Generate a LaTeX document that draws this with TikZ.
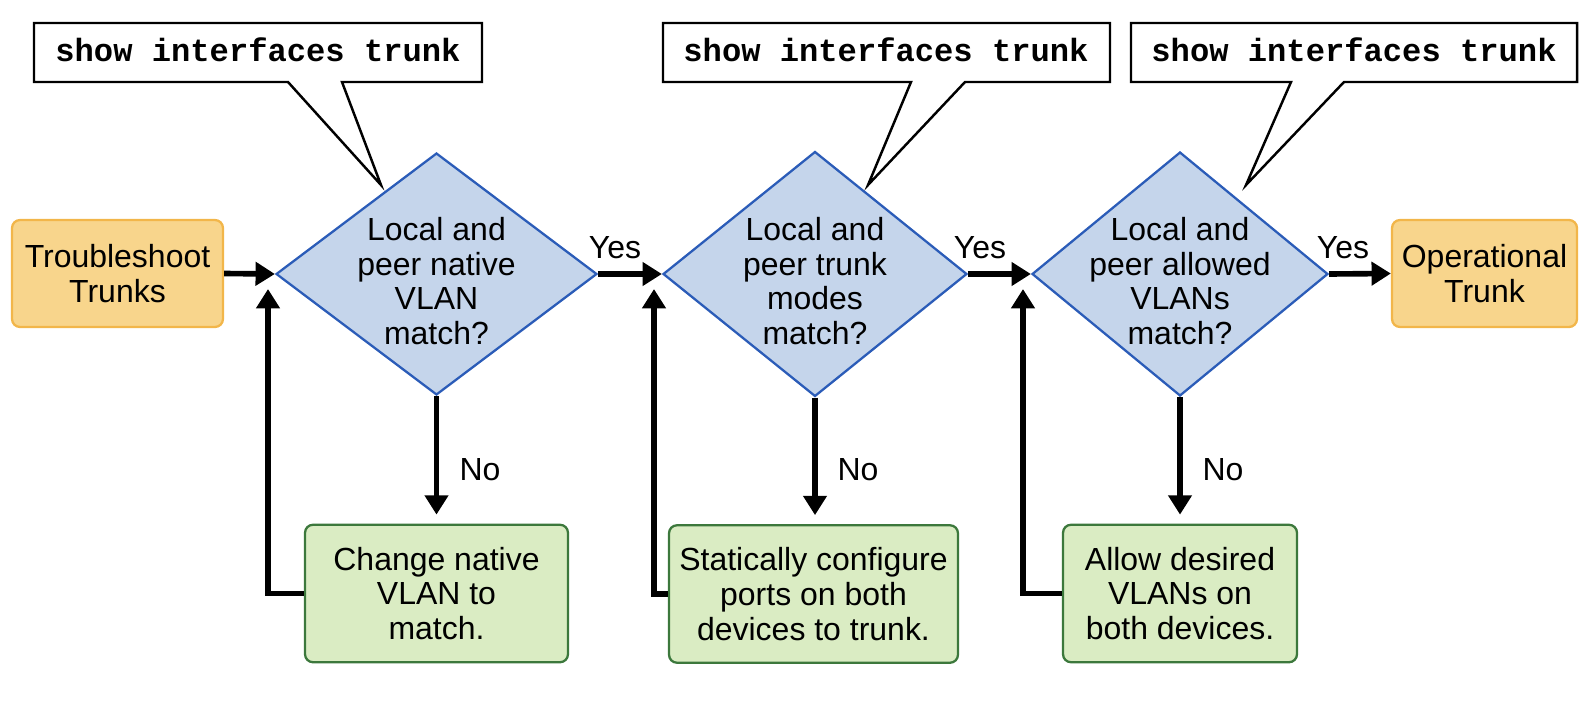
\documentclass[tikz,border=0pt]{standalone}
\usepackage{fontspec}
\setmainfont{Liberation Sans}
\setmonofont{Liberation Mono}
\usetikzlibrary{shapes.geometric,arrows.meta}
\definecolor{orfill}{HTML}{F8D58C}
\definecolor{ordraw}{HTML}{F2B64A}
\definecolor{blfill}{HTML}{C5D5EB}
\definecolor{bldraw}{HTML}{2B5CB8}
\definecolor{grfill}{HTML}{DAECC3}
\definecolor{grdraw}{HTML}{3C783C}
\begin{document}
\begin{tikzpicture}[x=0.02cm,y=-0.02cm,
  txt/.style={font=\fontsize{18.2}{19.8}\selectfont, align=center, text=black, inner sep=0pt},
  term/.style={txt, rectangle, rounded corners=0.16cm, fill=orfill, draw=ordraw, line width=1.3pt, minimum height=2.14cm},
  act/.style={txt, rectangle, rounded corners=0.16cm, fill=grfill, draw=grdraw, line width=1.3pt, minimum height=2.75cm},
  dia/.style={diamond, fill=blfill, draw=bldraw, line width=1.3pt, inner sep=0pt},
  callout/.style={draw=black, fill=white, line width=1.4pt, line join=miter},
  cmd/.style={font=\fontsize{18.3}{20}\selectfont\ttfamily\bfseries, inner sep=0pt},
  arr/.style={line width=3.2pt, -{Triangle[length=11pt,width=13pt]}},
  lbl/.style={txt}]
\useasboundingbox (0,0) rectangle (1588,726);

% callouts
\draw[callout] (34,23) -- (482,23) -- (482,82) -- (342,82) -- (381,185) -- (288,82) -- (34,82) -- cycle;
\node[cmd] (c1) at (258,50) {show interfaces trunk};
\draw[callout] (663,23) -- (1110,23) -- (1110,82) -- (965,82) -- (868,185) -- (911,82) -- (663,82) -- cycle;
\node[cmd] (c2) at (886,50) {show interfaces trunk};
\draw[callout] (1131,23) -- (1577,23) -- (1577,82) -- (1344,82) -- (1246,185) -- (1291,82) -- (1131,82) -- cycle;
\node[cmd] (c3) at (1354,50) {show interfaces trunk};

% terminals
\node[term, minimum width=4.22cm] (t) at (117.5,273.5) {Troubleshoot\\Trunks};
\node[term, minimum width=3.7cm] (o) at (1484.5,273.5) {Operational\\Trunk};

% decisions
\node[dia, minimum width=6.42cm, minimum height=4.84cm] (d1) at (436.5,274) {};
\node[txt] (d1t) at (436.5,281) {Local and\\peer native\\VLAN\\match?};
\node[dia, minimum width=6.08cm, minimum height=4.9cm] (d2) at (815,274) {};
\node[txt] (d2t) at (815,281) {Local and\\peer trunk\\modes\\match?};
\node[dia, minimum width=5.92cm, minimum height=4.88cm] (d3) at (1180,274) {};
\node[txt] (d3t) at (1180,281) {Local and\\peer allowed\\VLANs\\match?};

% actions
\node[act, minimum width=5.26cm] (g1) at (436.5,593.5) {Change native\\VLAN to\\match.};
\node[act, minimum width=5.78cm] (g2) at (813.5,594) {Statically configure\\ports on both\\devices to trunk.};
\node[act, minimum width=4.68cm] (g3) at (1180,593.5) {Allow desired\\VLANs on\\both devices.};

% feedback targets
\coordinate (f1) at (268,289);
\coordinate (f2) at (654,289);
\coordinate (f3) at (1023,289);

% connectors
\draw[arr] (t.east) -- (d1.west);
\draw[arr] (d1.east) -- (d2.west);
\draw[arr] (d2.east) -- (d3.west);
\draw[arr] (d3.east) -- (o.west);
\draw[arr, shorten >=0.18cm] (d1.south) -- (d1.south |- g1.north);
\draw[arr, shorten >=0.18cm] (d2.south) -- (d2.south |- g2.north);
\draw[arr, shorten >=0.18cm] (d3.south) -- (d3.south |- g3.north);
\draw[arr] (g1.west) -| (f1);
\draw[arr] (g2.west) -| (f2);
\draw[arr] (g3.west) -| (f3);

% labels
\node[lbl] (y1) at (615,248) {Yes};
\node[lbl] (y2) at (980,248) {Yes};
\node[lbl] (y3) at (1343,248) {Yes};
\node[lbl] (n1) at (480,470) {No};
\node[lbl] (n2) at (858,470) {No};
\node[lbl] (n3) at (1223,470) {No};
\end{tikzpicture}
\end{document}
